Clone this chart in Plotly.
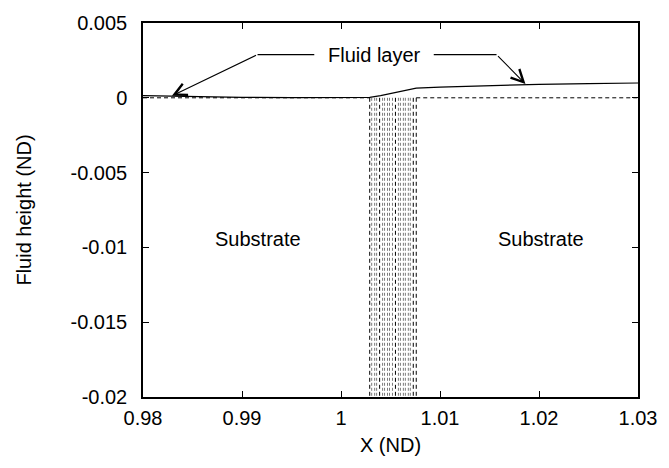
import plotly.graph_objects as go

# Fluid free-surface height along the substrate
fluid_x = [0.98, 0.985, 0.99, 0.995, 1.0, 1.0029, 1.004, 1.0055, 1.0076, 1.01, 1.015, 1.02, 1.025, 1.03]
fluid_h = [0.00015, 0.00008, 0.00003, 0.00001, 0.00001, 0.00003, 0.00015, 0.00035, 0.00065, 0.00072, 0.00082, 0.0009, 0.00095, 0.00099]

# Substrate surface: flat plateaus either side of a trench
plateau_left_x = [0.98, 1.0029]
plateau_right_x = [1.0076, 1.03]
plateau_h = 0.0
trench_floor = -0.02
# Trench wall contours: main walls and the intermediate ones
trench_walls_main = [1.0029, 1.0039, 1.0055, 1.0073, 1.0076]
trench_walls_inner = [1.0031, 1.0034, 1.0036, 1.0042, 1.0044, 1.0047, 1.0049,
                      1.0052, 1.0058, 1.0060, 1.0063, 1.0065, 1.0068, 1.0070]

x_ticks = [0.98, 0.99, 1.0, 1.01, 1.02, 1.03]
x_tick_text = ["0.98", "0.99", "1", "1.01", "1.02", "1.03"]
y_ticks = [0.005, 0.0, -0.005, -0.01, -0.015, -0.02]
y_tick_text = ["0.005", "0", "-0.005", "-0.01", "-0.015", "-0.02"]

FS = 20

fig = go.Figure()

dash_line = dict(color="black", width=1, dash="4px,3px")

fig.add_trace(go.Scatter(x=plateau_left_x, y=[plateau_h, plateau_h], mode="lines",
                         line=dash_line, showlegend=False, hoverinfo="skip"))
fig.add_trace(go.Scatter(x=plateau_right_x, y=[plateau_h, plateau_h], mode="lines",
                         line=dash_line, showlegend=False, hoverinfo="skip"))
for xw in trench_walls_inner:
    fig.add_trace(go.Scatter(
        x=[xw, xw], y=[plateau_h, trench_floor], mode="lines",
        line=dict(color="#7a7a7a", width=1, dash="3px,2px"),
        showlegend=False, hoverinfo="skip"))
for xw in trench_walls_main:
    fig.add_trace(go.Scatter(
        x=[xw, xw], y=[plateau_h, trench_floor], mode="lines",
        line=dict(color="black", width=1, dash="4px,3px"),
        showlegend=False, hoverinfo="skip"))

fig.add_trace(go.Scatter(x=fluid_x, y=fluid_h, mode="lines",
                         line=dict(color="black", width=1.2),
                         showlegend=False, hoverinfo="skip"))

# Label with leader lines to the fluid surface
label_y = 0.00289
fig.add_trace(go.Scatter(x=[0.9973, 0.99157], y=[label_y, label_y], mode="lines",
                         line=dict(color="black", width=1.2), showlegend=False, hoverinfo="skip"))
fig.add_trace(go.Scatter(x=[1.00937, 1.01571], y=[label_y, label_y], mode="lines",
                         line=dict(color="black", width=1.2), showlegend=False, hoverinfo="skip"))

annotations = [
    dict(x=1.00335, y=label_y, text="Fluid layer", showarrow=False,
         font=dict(size=FS, color="black"), xanchor="center", yanchor="middle"),
    dict(x=0.98292, y=0.00013, ax=0.99157, ay=label_y, axref="x", ayref="y",
         xref="x", yref="y", text="", showarrow=True, arrowhead=5, arrowsize=2.2,
         arrowwidth=1.1, arrowcolor="black", standoff=0, startstandoff=0),
    dict(x=1.01863, y=0.00092, ax=1.01571, ay=label_y, axref="x", ayref="y",
         xref="x", yref="y", text="", showarrow=True, arrowhead=5, arrowsize=2.2,
         arrowwidth=1.1, arrowcolor="black", standoff=0, startstandoff=0),
    dict(x=0.99157, y=-0.00947, text="Substrate", showarrow=False,
         font=dict(size=FS, color="black")),
    dict(x=1.02024, y=-0.00947, text="Substrate", showarrow=False,
         font=dict(size=FS, color="black")),
]

axis_common = dict(showgrid=False, zeroline=False, showline=True, linecolor="black",
                   linewidth=1.5, mirror="ticks", ticks="inside", ticklen=6,
                   tickcolor="black", tickwidth=1,
                   tickfont=dict(size=FS, color="black"))

fig.update_layout(
    width=669, height=468,
    margin=dict(l=143, r=27, t=16, b=71),
    paper_bgcolor="white", plot_bgcolor="white",
    font=dict(family="Liberation Sans, Arial, sans-serif", size=FS, color="black"),
    xaxis=dict(range=[0.98, 1.03], tickvals=x_ticks, ticktext=x_tick_text,
               ticklabelstandoff=2,
               title=dict(text="X (ND)", font=dict(size=FS), standoff=10), **axis_common),
    yaxis=dict(range=[-0.02, 0.005], tickvals=y_ticks, ticktext=y_tick_text,
               ticklabelstandoff=10,
               title=dict(text="Fluid height (ND)", font=dict(size=FS), standoff=34), **axis_common),
    annotations=annotations,
)

fig.write_html("out.html")
